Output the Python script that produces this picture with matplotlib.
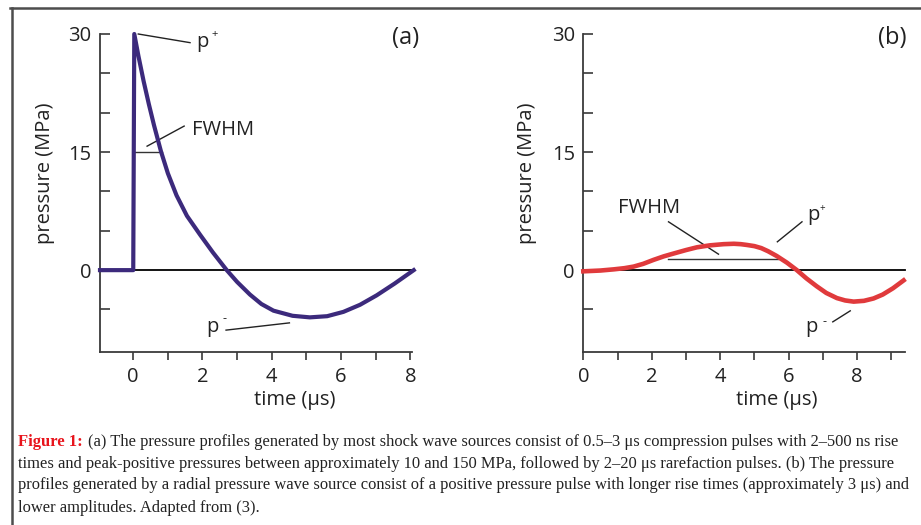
import matplotlib.pyplot as plt
from matplotlib.lines import Line2D

plt.rcParams['font.family'] = ['Open Sans', 'DejaVu Sans']

# panel (a): shock wave pulse
t_a = [-0.96, 0.0, 0.03, 0.15, 0.3, 0.45, 0.6, 0.8, 1.0, 1.25, 1.55, 1.93, 2.3, 2.7,
       3.0, 3.37, 3.7, 4.05, 4.6, 5.1, 5.6, 6.07, 6.55, 7.03, 7.55, 8.1]
p_a = [0, 0, 30, 27.2, 24.0, 21.1, 18.4, 15.1, 12.3, 9.5, 6.9, 4.5, 2.25, 0,
       -1.5, -3.1, -4.3, -5.15, -5.8, -6.0, -5.85, -5.3, -4.4, -3.2, -1.7, 0]

# panel (b): radial pressure wave
t_b = [0, 0.5, 0.89, 1.2, 1.47, 1.75, 2.05, 2.35, 2.63, 3.0, 3.32, 3.7, 4.1, 4.4,
       4.6, 4.78, 5.0, 5.2, 5.4, 5.65, 5.95, 6.24, 6.52, 6.82, 7.1, 7.41, 7.65, 7.9,
       8.2, 8.48, 8.75, 9.05, 9.36]
p_b = [-0.15, -0.05, 0.1, 0.25, 0.45, 0.8, 1.3, 1.75, 2.1, 2.55, 2.9, 3.15, 3.3, 3.35,
       3.3, 3.2, 3.05, 2.8, 2.4, 1.8, 0.95, 0, -1.05, -2.05, -2.9, -3.55, -3.85, -4.0,
       -3.9, -3.6, -3.1, -2.3, -1.3]

yticks = [-5, 0, 5, 10, 15, 20, 25, 30]
ylabels = ['', '0', '', '', '15', '', '', '30']
xlabels_a = ['0', '', '2', '', '4', '', '6', '', '8']
xlabels_b = ['0', '', '2', '', '4', '', '6', '', '8', '']

W, H = 921, 525
fig = plt.figure(figsize=(W / 100, H / 100), dpi=100)

def box(l, r, b, t):
    return [l / W, 1 - b / H, (r - l) / W, (b - t) / H]

ax_a = fig.add_axes(box(100, 412, 352, 34))
ax_b = fig.add_axes(box(583.3, 905, 352, 34))

fs = 14.5
tc = '#222222'
axc = '#3a3a3a'
for ax in (ax_a, ax_b):
    for s in ('top', 'right'):
        ax.spines[s].set_visible(False)
    for s in ('left', 'bottom'):
        ax.spines[s].set_color(axc)
        ax.spines[s].set_linewidth(1.3)
    ax.set_ylim(-10.4, 30)
    ax.set_yticks(yticks)
    ax.set_yticklabels(ylabels)
    ax.tick_params(axis='y', direction='in', length=7, width=1.2, pad=6,
                   labelsize=fs, colors=axc, labelcolor=tc)
    ax.tick_params(axis='x', direction='out', length=6, width=1.2, pad=5,
                   labelsize=fs, colors=axc, labelcolor=tc)
    ax.text(-0.176, 0.563, 'pressure (MPa)', rotation=90, transform=ax.transAxes,
            ha='center', va='center', fontsize=fs, color=tc)

# ---- panel (a)
ax_a.set_xlim(-0.96, 8.05)
ax_a.set_xticks(range(0, 9))
ax_a.set_xticklabels(xlabels_a)
ax_a.plot([-0.96, 8.1], [0, 0], color='black', lw=1.3, clip_on=False)
ax_a.plot(t_a, p_a, color='#3c2a7c', lw=3, solid_joinstyle='round', clip_on=False, zorder=3)
ax_a.plot([0.05, 0.82], [15, 15], color='#333333', lw=1.0)
ax_a.plot([0.145, 1.64], [30.0, 28.9], color=tc, lw=1.0, clip_on=False)
ax_a.text(1.83, 28.4, 'p', fontsize=fs, va='baseline', ha='left', color=tc)
ax_a.text(2.36, 29.9, '+', fontsize=8, va='center', ha='center', color=tc)
ax_a.plot([0.40, 1.47], [15.75, 18.3], color=tc, lw=1.0)
ax_a.text(1.69, 17.15, 'FWHM', fontsize=fs, va='baseline', ha='left', color=tc)
ax_a.plot([2.68, 4.51], [-7.62, -6.7], color=tc, lw=1.0)
ax_a.text(2.12, -7.84, 'p', fontsize=fs, va='baseline', ha='left', color=tc)
ax_a.text(2.64, -6.2, '-', fontsize=9, va='center', ha='center', color=tc)
ax_a.text(7.85, 29.5, '(a)', fontsize=17, va='center', ha='center', color=tc)
ax_a.text(0.624, -0.151, 'time (μs)', transform=ax_a.transAxes, fontsize=fs,
          ha='center', va='center', color=tc)

# ---- panel (b)
ax_b.set_xlim(0, 9.4)
ax_b.set_xticks(range(0, 10))
ax_b.set_xticklabels(xlabels_b)
ax_b.plot([0, 9.4], [0, 0], color='black', lw=1.3, clip_on=False)
ax_b.plot(t_b, p_b, color='#e03a3c', lw=3.3, solid_joinstyle='round', clip_on=False, zorder=3)
ax_b.plot([2.48, 5.7], [1.4, 1.4], color='#333333', lw=1.0)
ax_b.plot([2.49, 3.95], [6.14, 2.03], color=tc, lw=1.0)
ax_b.text(1.0, 7.2, 'FWHM', fontsize=fs, va='baseline', ha='left', color=tc)
ax_b.plot([5.67, 6.39], [3.6, 6.14], color=tc, lw=1.0)
ax_b.text(6.53, 6.35, 'p', fontsize=fs, va='baseline', ha='left', color=tc)
ax_b.text(6.97, 7.84, '+', fontsize=7, va='center', ha='center', color=tc)
ax_b.plot([7.29, 7.8], [-6.57, -5.17], color=tc, lw=1.0)
ax_b.text(6.48, -7.84, 'p', fontsize=fs, va='baseline', ha='left', color=tc)
ax_b.text(7.04, -6.57, '-', fontsize=9, va='center', ha='center', color=tc)
ax_b.text(9.02, 29.5, '(b)', fontsize=17, va='center', ha='center', color=tc, clip_on=False)
ax_b.text(0.602, -0.151, 'time (μs)', transform=ax_b.transAxes, fontsize=fs,
          ha='center', va='center', color=tc)

# ---- frame lines
bc = '#4d4d4d'
fig.add_artist(Line2D([10 / W, 1], [1 - 8 / H, 1 - 8 / H], transform=fig.transFigure,
                      color=bc, lw=1.8))
fig.add_artist(Line2D([11.5 / W, 11.5 / W], [0, 1 - 8 / H], transform=fig.transFigure,
                      color=bc, lw=1.8))

# ---- caption
serif = ['Liberation Serif', 'DejaVu Serif']
cap_lines = [
    '(a) The pressure profiles generated by most shock wave sources consist of 0.5–3 μs compression pulses with 2–500 ns rise',
    'times and peak-positive pressures between approximately 10 and 150 MPa, followed by 2–20 μs rarefaction pulses. (b) The pressure',
    'profiles generated by a radial pressure wave source consist of a positive pressure pulse with longer rise times (approximately 3 μs) and',
    'lower amplitudes. Adapted from (3).',
]
baselines = [446, 467.7, 489.3, 511.7]
fig.text(18 / W, 1 - baselines[0] / H, 'Figure 1:', family=serif, fontsize=12,
         weight='bold', color='#e8141c', va='baseline')
for i, line in enumerate(cap_lines):
    x0 = 88 if i == 0 else 18
    fig.text(x0 / W, 1 - baselines[i] / H, line, family=serif, fontsize=11.9,
             color=tc, va='baseline')

fig.savefig('out.png', dpi=100, facecolor='white')
